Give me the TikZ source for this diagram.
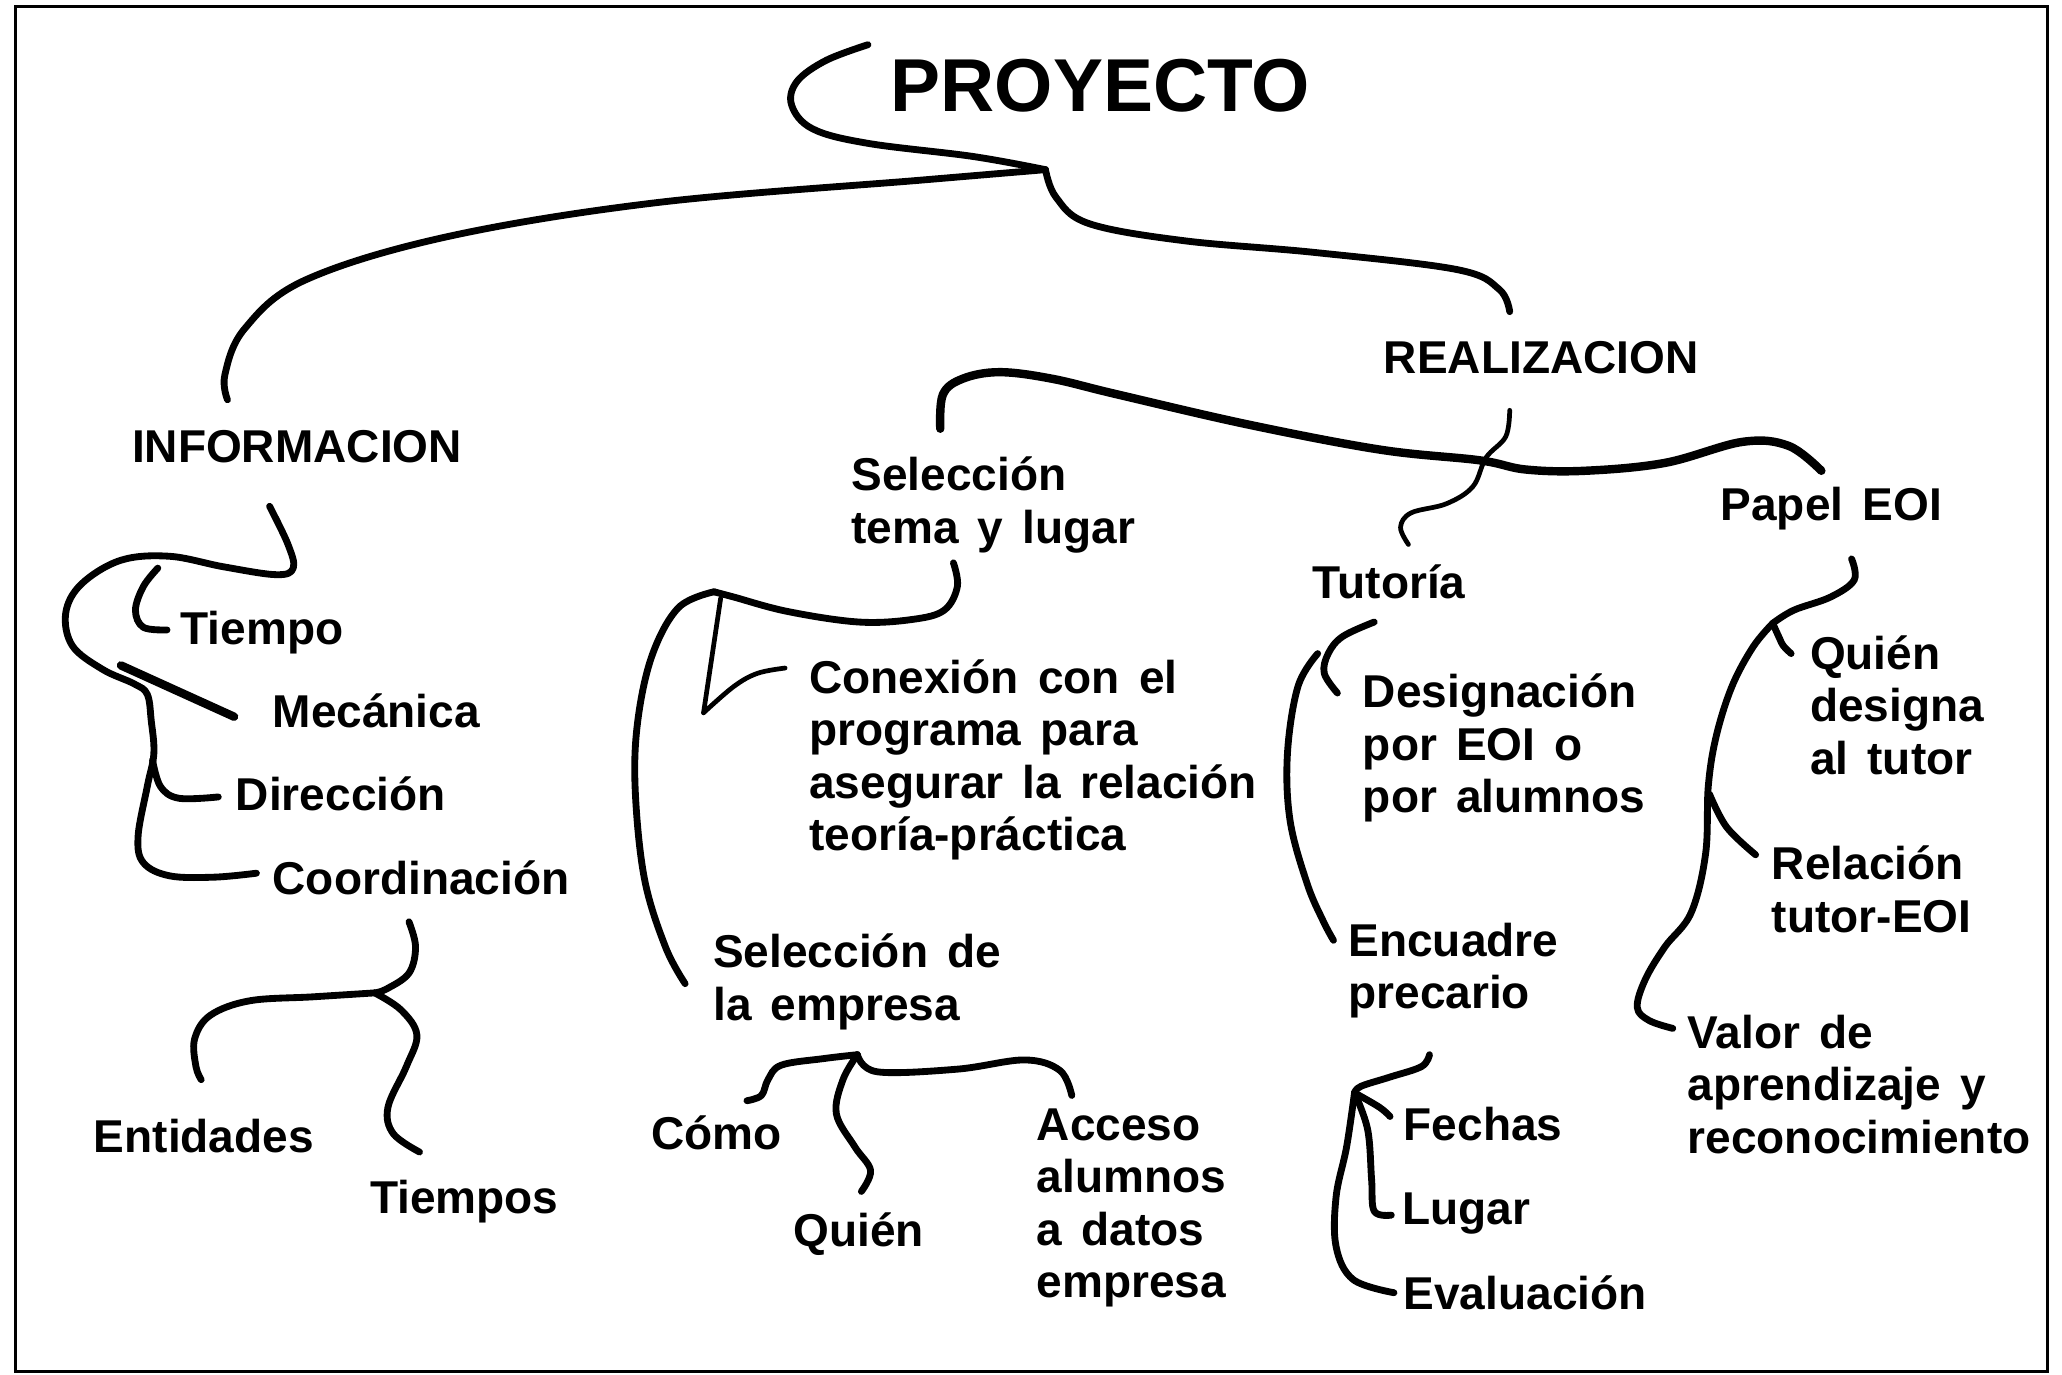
\documentclass[tikz,border=0pt]{standalone}
\usepackage{fontspec}
\setmainfont{Liberation Sans}[WordSpace=1.5]
\begin{document}
\begin{tikzpicture}[x=0.5pt,y=-0.5pt,
  lbl/.style={anchor=base west,inner sep=0pt,align=left,font=\bfseries\fontsize{17.5}{20}\selectfont},
  br/.style={line width=2.6pt,line cap=round,line join=round},
  brthin/.style={line width=1.8pt,line cap=round,line join=round},
  brthick/.style={line width=3.2pt,line cap=round,line join=round}]
\useasboundingbox (0,0) rectangle (1568,1045);
\draw[line width=1.3pt] (12,5) rectangle (1557,1043);

% nodes (base = baseline of the last line)
\node[lbl,font=\bfseries\fontsize{28.5}{32}\selectfont] (proy) at (677,85) {PROYECTO};
\node[lbl] (real) at (1052,284) {REALIZACION};
\node[lbl] (info) at (100,352) {INFORMACION};
\node[lbl] (tiempo) at (137,490) {Tiempo};
\node[lbl] (mecanica) at (207,553) {Mecánica};
\node[lbl] (direccion) at (179,616) {Dirección};
\node[lbl] (coord) at (207,680) {Coordinación};
\node[lbl] (entidades) at (71,876) {Entidades};
\node[lbl] (tiempos) at (281,923) {Tiempos};
\node[lbl] (seltema) at (647,413) {Selección\\tema y lugar};
\node[lbl] (conexion) at (615,647) {Conexión con el\\programa para\\asegurar la relación\\teoría-práctica};
\node[lbl] (selemp) at (542,776) {Selección de\\la empresa};
\node[lbl] (como) at (495,874) {Cómo};
\node[lbl] (quien) at (603,948) {Quién};
\node[lbl] (acceso) at (788,987) {Acceso\\alumnos\\a datos\\empresa};
\node[lbl] (tutoria) at (998,455) {Tutoría};
\node[lbl] (design) at (1036,618) {Designación\\por EOI o\\por alumnos};
\node[lbl] (encuadre) at (1025,767) {Encuadre\\precario};
\node[lbl] (fechas) at (1067,867) {Fechas};
\node[lbl] (lugar) at (1066,931) {Lugar};
\node[lbl] (evalua) at (1067,996) {Evaluación};
\node[lbl] (papel) at (1308,396) {Papel EOI};
\node[lbl] (quien2) at (1376,589) {Quién\\designa\\al tutor};
\node[lbl] (relacion) at (1347,709) {Relación\\tutor-EOI};
\node[lbl] (valor) at (1283,877) {Valor de\\aprendizaje y\\reconocimiento};

% named connector ends
\coordinate (pTop) at (660,34);
\coordinate (jP) at (795,129);
\coordinate (pInfo) at (173,304);
\coordinate (pReal) at (1148,237);
\coordinate (rTop) at (1148,312);
\coordinate (rTut) at (1071,414);
\coordinate (wL) at (715,326);
\coordinate (wR) at (1385,358);
\coordinate (sTop) at (725,428);
\coordinate (jS) at (543,450);
\coordinate (sEmp) at (521,748);
\coordinate (sCon) at (597,508);
\coordinate (iTop) at (205,385);
\coordinate (iMec) at (92,506);
\coordinate (iMecE) at (178,545);
\coordinate (iCoo) at (195,664);
\coordinate (iTie) at (127,479);
\coordinate (iDir) at (166,606);
\coordinate (cTop) at (311,701);
\coordinate (jC) at (285,755);
\coordinate (cEnt) at (153,821);
\coordinate (cTie) at (319,876);
\coordinate (jE) at (652,802);
\coordinate (eCom) at (568,837);
\coordinate (eQui) at (655,906);
\coordinate (eAcc) at (815,833);
\coordinate (tTop) at (1045,473);
\coordinate (tDes) at (1017,527);
\coordinate (tEnc) at (1014,715);
\coordinate (fTop) at (1087,802);
\coordinate (jF) at (1030,831);
\coordinate (fFec) at (1057,849);
\coordinate (fLug) at (1058,924);
\coordinate (fEva) at (1060,983);
\coordinate (qTop) at (1408,425);
\coordinate (jQ) at (1348,474);
\coordinate (qQui) at (1362,497);
\coordinate (qVal) at (1272,782);
\coordinate (qRel) at (1335,650);

% PROYECTO
\draw[br] plot[smooth,tension=0.6] coordinates {(pTop) (628,46) (606,62) (602,80) (618,98) (660,109) (740,119) (jP)};
\draw[br] plot[smooth,tension=0.6] coordinates {(jP) (700,137) (500,154) (340,180) (232,213) (186,250) (171,285) (pInfo)};
\draw[br] plot[smooth,tension=0.6] coordinates {(jP) (803,150) (828,170) (900,183) (1000,192) (1108,205) (1140,220) (pReal)};

% REALIZACION
\draw[brthin] plot[smooth,tension=0.6] coordinates {(rTop) (1145,332) (1130,348) (1120,370) (1100,383) (1073,390) (1065,401) (rTut)};
\draw[brthick] plot[smooth,tension=0.6] coordinates {(wL) (717,300) (732,288) (760,283) (800,288) (850,300) (950,323) (1050,342) (1125,350) (1160,357) (1205,358) (1266,352) (1325,336) (1360,339) (wR)};

% Seleccion tema y lugar
\draw[br] plot[smooth,tension=0.6] coordinates {(sTop) (728,446) (718,464) (694,471) (653,473) (599,465) (558,454) (jS)};
\draw[br] plot[smooth,tension=0.6] coordinates {(jS) (516,462) (496,498) (485,548) (483,600) (490,668) (506,720) (sEmp)};
\draw[brthin] plot[smooth,tension=0.5] coordinates {(548,455) (535,542)};
\draw[brthin] plot[smooth,tension=0.6] coordinates {(535,542) (558,522) (576,512) (sCon)};

% INFORMACION
\draw[br] plot[smooth,tension=0.6] coordinates {(iTop) (219,414) (223,432) (210,437) (170,431) (129,423) (92,426) (62,444) (50,466) (55,491) (78,509) (102,520) (112,528) (115,548) (117,573) (112,598) (105,636) (109,656) (129,666) (163,667) (iCoo)};
\draw[brthick] (iMec) -- (iMecE);
\draw[br] plot[smooth,tension=0.6] coordinates {(120,432) (109,446) (103,464) (109,477) (iTie)};
\draw[br] plot[smooth,tension=0.6] coordinates {(116,578) (122,598) (136,607) (iDir)};

% Coordinacion
\draw[br] plot[smooth,tension=0.6] coordinates {(cTop) (316,720) (311,740) (294,752) (jC)};
\draw[br] plot[smooth,tension=0.6] coordinates {(jC) (238,758) (190,761) (160,772) (148,790) (149,811) (cEnt)};
\draw[br] plot[smooth,tension=0.6] coordinates {(jC) (305,768) (317,787) (309,811) (295,842) (299,862) (cTie)};

% Seleccion de la empresa
\draw[br] plot[smooth,tension=0.6] coordinates {(jE) (626,805) (594,810) (584,821) (579,833) (eCom)};
\draw[br] plot[smooth,tension=0.6] coordinates {(jE) (641,821) (636,847) (650,872) (662,890) (eQui)};
\draw[br] plot[smooth,tension=0.6] coordinates {(jE) (667,815) (728,813) (779,806) (806,814) (eAcc)};

% Tutoria
\draw[br] plot[smooth,tension=0.6] coordinates {(tTop) (1021,484) (1010,497) (1007,512) (tDes)};
\draw[br] plot[smooth,tension=0.6] coordinates {(1002,497) (987,522) (979,573) (981,624) (994,672) (1006,700) (tEnc)};

% Encuadre
\draw[br] plot[smooth,tension=0.6] coordinates {(fTop) (1081,811) (1057,819) (1035,826) (jF)};
\draw[br] plot[smooth,tension=0.6] coordinates {(jF) (1049,842) (fFec)};
\draw[br] plot[smooth,tension=0.6] coordinates {(jF) (1040,859) (1043,897) (1045,921) (fLug)};
\draw[br] plot[smooth,tension=0.6] coordinates {(jF) (1024,872) (1016,910) (1016,948) (1029,973) (fEva)};

% Papel EOI
\draw[br] plot[smooth,tension=0.6] coordinates {(qTop) (1410,441) (1392,454) (1364,464) (jQ)};
\draw[br] plot[smooth,tension=0.6] coordinates {(jQ) (1353,485) (1356,491) (qQui)};
\draw[br] plot[smooth,tension=0.6] coordinates {(jQ) (1333,492) (1317,522) (1305,560) (1299,598) (1297,649) (1286,694) (1266,720) (1251,745) (1245,766) (1254,776) (qVal)};
\draw[br] plot[smooth,tension=0.6] coordinates {(1300,604) (1313,629) (qRel)};
\end{tikzpicture}
\end{document}
